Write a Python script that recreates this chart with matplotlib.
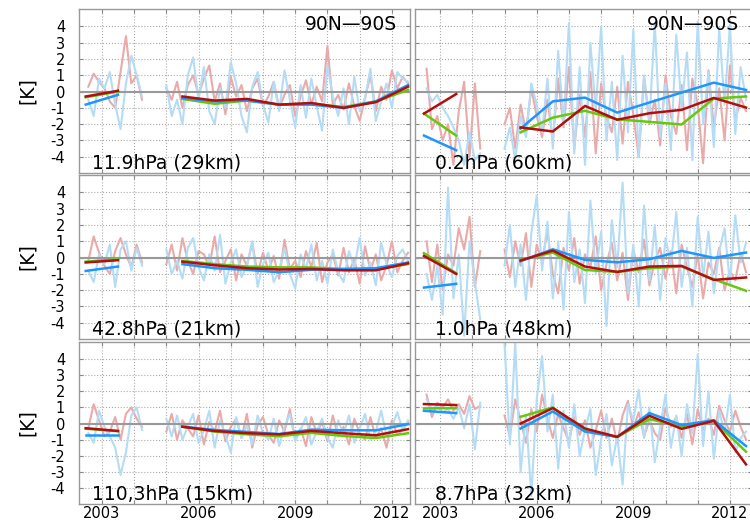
import numpy as np
import matplotlib
matplotlib.use("Agg")
import matplotlib.pyplot as plt

plt.rcParams['font.family'] = ['DejaVu Sans']
plt.rcParams['axes.unicode_minus'] = False

# annual means are plotted at mid-year
YEARS_PRE = [2002.5, 2003.5]
YEARS_POST = [2005.5, 2006.5, 2007.5, 2008.5, 2009.5, 2010.5, 2011.5, 2012.5]

# start of the two-monthly background series
T_PRE0 = 2002.58
T_POST0 = 2005.0

LABELS = {
    'p12': '11.9hPa (29km)', 'p02': '0.2hPa (60km)',
    'p43': '42.8hPa (21km)', 'p10': '1.0hPa (48km)',
    'p110': '110,3hPa (15km)', 'p87': '8.7hPa (32km)',
}
REGION = '90N\u201490S'

# ---- annual means: red, green, blue (pre-gap, post-gap) ----
red_p12 = ([-0.3, 0.05], [-0.3, -0.55, -0.45, -0.8, -0.7, -1.0, -0.65, 0.3])
grn_p12 = ([-0.35, 0.0], [-0.45, -0.75, -0.55, -0.8, -0.75, -0.95, -0.6, 0.1])
blu_p12 = ([-0.8, -0.2], [-0.4, -0.6, -0.55, -0.8, -0.8, -1.0, -0.6, 0.4])

red_p02 = ([-1.35, -0.15], [-2.2, -2.45, -0.88, -1.73, -1.33, -1.12, -0.39, -0.98])
grn_p02 = ([-1.35, -2.7], [-2.5, -1.6, -1.18, -1.7, -1.86, -2.02, -0.43, -0.3])
blu_p02 = ([-2.7, -3.6], [-2.27, -0.6, -0.37, -1.29, -0.67, -0.06, 0.55, 0.1])

red_p43 = ([-0.3, -0.16], [-0.25, -0.47, -0.65, -0.73, -0.7, -0.78, -0.78, -0.35])
grn_p43 = ([-0.25, -0.1], [-0.2, -0.4, -0.55, -0.6, -0.6, -0.7, -0.72, -0.4])
blu_p43 = ([-0.82, -0.55], [-0.4, -0.65, -0.75, -0.9, -0.75, -0.7, -0.65, -0.3])

red_p10 = ([0.1, -1.0], [-0.18, 0.43, -0.55, -0.88, -0.55, -0.51, -1.37, -1.22])
grn_p10 = ([0.27, -0.96], [-0.14, 0.31, -0.76, -0.88, -0.65, -0.55, -1.33, -2.04])
blu_p10 = ([-1.84, -1.61], [-0.22, 0.51, -0.14, -0.29, -0.1, 0.41, -0.02, 0.31])

red_p110 = ([-0.29, -0.46], [-0.2, -0.46, -0.6, -0.67, -0.46, -0.6, -0.73, -0.35])
grn_p110 = ([-0.32, -0.48], [-0.2, -0.5, -0.67, -0.79, -0.58, -0.77, -0.9, -0.6])
blu_p110 = ([-0.7, -0.7], [-0.19, -0.4, -0.52, -0.65, -0.38, -0.42, -0.42, -0.04])

red_p87 = ([1.21, 1.15], [0.0, 0.96, -0.31, -0.83, 0.48, -0.33, 0.17, -2.54])
grn_p87 = ([0.94, 0.96], [0.42, 1.0, -0.46, -0.83, 0.27, -0.17, 0.17, -1.75])
blu_p87 = ([0.79, 0.65], [-0.31, 0.75, -0.5, -0.83, 0.65, -0.1, 0.21, -1.4])

# ---- two-monthly anomalies: light blue and pink (pre-gap, post-gap) ----
lblu_p12 = ([-0.5, -1.5, 0.8, 0.2, 1.2, -0.8, -2.3, 0.5, 2.2, 1.0, -0.3],
            [0.4, -1.5, -0.5, -2.0, 1.0, 2.1, -0.5, 1.5, -1.2, -2.0, 0.2, -1.0, 1.8, 0.5, -1.5, -2.5,
             0.3, 1.2, -0.8, -1.9, 0.6, -1.2, 1.3, -0.5, -2.2, 0.4, -1.6, 0.8, -0.9, -2.4, 1.6, -0.3,
             -1.5, 0.2, -2.0, 0.9, -1.2, -0.4, 1.4, -1.8, -0.6, 0.5, -1.0, 1.2, 0.8, 0.6])
pink_p12 = ([0.3, 1.1, 0.6, 0.2, -0.6, -1.0, 1.2, 3.4, 0.5, 1.0, -0.5],
            [0.2, -0.5, 0.6, -1.0, 0.4, 1.0, -0.2, 0.8, 1.6, -0.6, 0.5, -1.4, 0.9, -0.3, 0.4, -1.2,
             0.2, 0.8, -0.9, -0.3, 0.6, -1.0, -0.2, 0.4, -1.5, -0.3, 0.7, -0.8, 0.3, -0.6, 2.8, -0.8,
             -0.2, -1.1, 0.5, -0.9, -1.8, -0.4, 1.0, -1.2, 0.3, -0.5, 1.3, 0.2, 0.9, 0.5])

lblu_p02 = ([0.2, -0.6, -0.2, -1.0, -1.5, -2.2, -3.0, -4.5, -2.5, -4.2, -3.8],
            [-3.5, -2.2, -4.2, -1.5, -2.8, 0.5, -0.8, -2.5, 0.8, -3.5, 2.5, -2.0, 4.2, -3.8, 1.5, -4.5,
             3.0, -1.2, 4.0, -3.0, 0.6, -4.2, 2.2, -2.5, 3.8, -4.0, 1.0, -1.8, 4.2, -2.8, 0.5, -3.6,
             3.5, -1.0, 2.4, -4.2, 4.3, -2.0, 1.2, -3.4, 3.9, -0.8, 4.1, -2.6, 1.5, -0.5])
pink_p02 = ([1.4, -2.3, -1.5, -3.0, -2.0, -4.5, -1.2, 0.6, -4.0, 0.5, -3.5],
            [-2.0, -1.0, -3.5, -0.8, -2.5, 0.2, -1.5, -2.8, -0.5, -3.0, 0.8, -2.2, 1.5, -3.5, -0.2, -2.8,
             1.2, -3.8, 0.5, -1.6, -2.5, 0.3, -3.2, 0.6, -1.4, -4.0, 0.9, -2.0, -0.5, -3.3, 1.0, -1.5,
             -2.6, 0.4, -3.6, 0.8, -0.8, -4.4, 1.3, -2.2, 0.2, -3.0, 1.6, -1.8, -0.4, -1.2])

lblu_p43 = ([-0.8, -1.5, 0.2, -0.4, 0.8, -1.8, 0.5, 1.0, -0.8, 0.6, -0.5],
            [0.5, -1.0, -0.2, -1.3, 0.6, 1.2, -0.6, -1.4, 0.2, -0.8, 1.4, -1.6, -0.3, 0.5, -1.2, -0.5,
             1.0, -1.8, -0.4, 0.3, -1.5, -0.8, 0.6, -1.0, -1.9, 0.2, -0.7, 0.8, -1.4, -0.2, -1.6, 0.5,
             -0.9, -1.5, 0.4, -0.6, 1.2, -1.1, -0.3, -1.7, 0.9, -0.4, -1.2, 0.1, 0.5, -0.2])
pink_p43 = ([-0.2, 1.3, 0.3, -0.5, -1.0, 0.4, 1.2, 0.2, -0.6, 0.8, -0.3],
            [-0.4, 0.8, -0.8, 1.2, -0.2, -1.0, 0.4, 0.2, -0.6, 1.3, -0.9, -0.2, 0.5, -1.4, 0.2, -0.5,
             0.9, -1.0, 0.3, -0.8, 0.1, -1.3, 1.1, -0.7, -0.2, -1.2, 0.4, -0.6, 0.9, -1.5, -0.3, 0.2,
             -1.1, 0.6, -0.9, -0.1, -1.6, 0.7, -0.8, 0.2, -1.4, -0.5, 1.0, -0.9, -0.2, 0.3])

lblu_p10 = ([-1.0, -2.6, -0.5, -3.5, 4.3, -2.5, 0.2, -4.8, 1.0, -1.5, -3.8],
            [-0.5, 2.0, -1.8, 0.8, -2.6, 1.5, 3.8, -0.8, 2.2, -2.5, 1.0, -3.2, 2.8, -1.5, 0.5, -2.8,
             3.5, -1.0, 1.6, -4.2, 2.3, -0.6, 4.6, -2.2, 0.8, -3.0, 3.2, -1.4, 2.0, -2.6, 1.2, -0.4,
             2.8, -1.8, 0.6, -3.0, 2.5, -1.2, 1.6, -2.2, 0.4, 1.8, -1.6, 2.6, -0.3, 0.9])
pink_p10 = ([1.0, -1.5, 0.8, -2.0, 0.2, -0.5, 1.8, 0.5, 2.5, -1.8, 0.4],
            [0.5, -1.2, 1.0, -0.5, 1.5, -1.8, 0.8, -0.2, 1.6, -1.0, -2.2, 0.6, -0.8, 1.2, -1.6, 0.2,
             -0.6, 1.3, -2.0, -0.4, 0.9, -1.4, 0.3, -2.6, 0.5, -0.9, 1.1, -1.7, -0.2, 0.6, -1.3, 0.4,
             -2.2, 0.8, -0.6, -1.8, 0.2, -2.5, -0.3, -1.0, 0.6, -2.0, -0.8, -1.4, 0.3, -0.9])

lblu_p110 = ([-0.6, -1.2, 0.8, -0.2, -0.8, -1.5, -3.2, -1.8, 0.5, 1.0, -0.4],
             [0.3, -0.8, 0.5, -1.0, -0.2, 0.6, -1.2, -0.4, 0.8, -1.5, 0.2, -0.7, -1.8, 0.4, -0.9, -0.1,
              -1.3, 0.5, -0.6, -1.0, 0.3, -1.4, -0.2, 0.6, -1.1, -0.4, 0.4, -1.3, -0.5, 0.3, -0.9, -1.5,
              0.2, -0.7, 0.5, -1.2, -0.3, 0.6, -1.0, -0.5, 0.8, -0.8, -0.2, 0.7, -0.4, 0.2])
pink_p110 = ([-0.3, 1.2, 0.2, -0.8, -0.5, 0.4, -1.0, 0.6, 1.0, 0.3, -0.2],
             [-0.5, 0.6, -1.0, 0.2, -0.3, -0.8, 0.5, -1.3, 0.1, -0.5, 0.8, -1.1, -0.2, 0.3, -0.9, 0.6,
              -1.5, -0.1, 0.4, -0.7, -1.2, 0.2, -0.5, 0.9, -1.0, -0.3, -1.4, 0.4, -0.6, 0.1, -1.1, 0.5,
              -0.8, -0.2, -1.3, 0.3, -0.6, -1.0, 0.4, -0.9, -0.3, -1.5, 0.2, -0.7, -0.4, 0.1])

lblu_p87 = ([1.5, 0.9, 1.1, 0.7, 0.9, 0.3, 1.0, -0.3, 1.2, -1.6, 1.3],
            [5.0, -1.3, 5.0, -3.0, 0.5, -4.5, 1.5, 4.2, -0.5, 1.8, -2.8, 0.8, -1.5, 1.2, -2.0, -0.4,
             0.9, -3.2, -1.0, 0.6, -2.6, -0.8, -3.8, 1.2, 0.2, 2.1, -0.9, 1.0, -2.4, -0.2, 1.8, -1.5,
             0.5, -2.0, 1.2, -0.6, 4.3, -1.4, 2.0, -2.2, 0.8, -0.6, 1.8, -1.8, -0.9, -0.5])
pink_p87 = ([1.8, 0.4, 1.3, 1.0, 1.5, 0.8, 1.2, 0.6, 1.7, 0.9, 1.1],
            [0.5, -0.8, 1.5, 0.2, -1.2, 0.9, -0.5, 1.8, 0.3, -0.9, 0.6, -0.3, -1.1, 0.4, -0.7, 0.2,
             -1.5, -0.4, 0.8, -0.9, 0.3, -1.2, 0.5, 1.4, -0.3, 0.7, -0.8, 0.2, -0.6, -1.0, 1.0, -0.2,
             0.4, -0.9, 0.6, -1.3, 0.9, -0.4, 0.3, -0.7, 1.1, 0.2, -0.5, 0.8, -0.2, -1.0])

PANELS = [
    # key, row, col, light blue, pink, red, green, blue
    ('p12', 0, 0, lblu_p12, pink_p12, red_p12, grn_p12, blu_p12),
    ('p02', 0, 1, lblu_p02, pink_p02, red_p02, grn_p02, blu_p02),
    ('p43', 1, 0, lblu_p43, pink_p43, red_p43, grn_p43, blu_p43),
    ('p10', 1, 1, lblu_p10, pink_p10, red_p10, grn_p10, blu_p10),
    ('p110', 2, 0, lblu_p110, pink_p110, red_p110, grn_p110, blu_p110),
    ('p87', 2, 1, lblu_p87, pink_p87, red_p87, grn_p87, blu_p87),
]

C_RED, C_GRN, C_BLU = '#b30e0e', '#66c80a', '#1e96ff'
C_LBLU, C_PINK = '#b4dcf6', '#eaaaaa'

# axes boxes in figure fractions
COL_X = [(0.1053, 0.4413), (0.5533, 0.4500)]
ROW_Y = [(0.6698, 0.3130), (0.3530, 0.3130), (0.0382, 0.3092)]
COL_XLIM = [(2002.29, 2012.56), (2002.22, 2012.70)]

fig = plt.figure(figsize=(7.5, 5.24), dpi=100)

for key, r, c, lblu, pink, red, grn, blu in PANELS:
    x0, w = COL_X[c]
    y0, h = ROW_Y[r]
    ax = fig.add_axes([x0, y0, w, h])

    # background series
    for vals, col in [(pink, C_PINK), (lblu, C_LBLU)]:
        pre, post = vals
        ax.plot(T_PRE0 + np.arange(len(pre)) / 6, pre, color=col, lw=1.5, zorder=2)
        ax.plot(T_POST0 + np.arange(len(post)) / 6, post, color=col, lw=1.5, zorder=2)

    ax.axhline(0, color='#999999', lw=1.5, zorder=3)

    # annual means
    for vals, col in [(grn, C_GRN), (blu, C_BLU), (red, C_RED)]:
        pre, post = vals
        ax.plot(YEARS_PRE, pre, color=col, lw=1.8, zorder=4)
        ax.plot(YEARS_POST, post, color=col, lw=1.8, zorder=4)

    ax.set_xlim(*COL_XLIM[c])
    ax.set_ylim(-5.0, 5.07)
    ax.set_xticks(np.arange(2003, 2013))
    ax.set_xticklabels(['2003', '', '', '2006', '', '', '2009', '', '', '2012'])
    ax.set_yticks(np.arange(-4, 5))
    ax.grid(True, color='#aaaaaa', ls=':', lw=0.8)
    ax.tick_params(direction='in', length=3, top=True, right=True,
                   labelsize=10.5, color='#888888')
    ax.tick_params(axis='x', pad=1.5)
    for sp in ax.spines.values():
        sp.set_color('#999999')
        sp.set_linewidth(1.0)

    if r < 2:
        ax.tick_params(labelbottom=False)
    if c == 0:
        ax.set_ylabel('[K]', fontsize=13.5, labelpad=10)
        ax.tick_params(axis='y', pad=10)
    else:
        ax.tick_params(labelleft=False)

    ax.text(0.04 if c == 0 else 0.06, 0.005, LABELS[key], transform=ax.transAxes,
            fontsize=13.5, ha='left', va='bottom', zorder=6)
    if r == 0:
        ax.text(0.96, 0.965, REGION, transform=ax.transAxes,
                fontsize=13.5, ha='right', va='top', zorder=6)

fig.savefig('out.png', dpi=100)
